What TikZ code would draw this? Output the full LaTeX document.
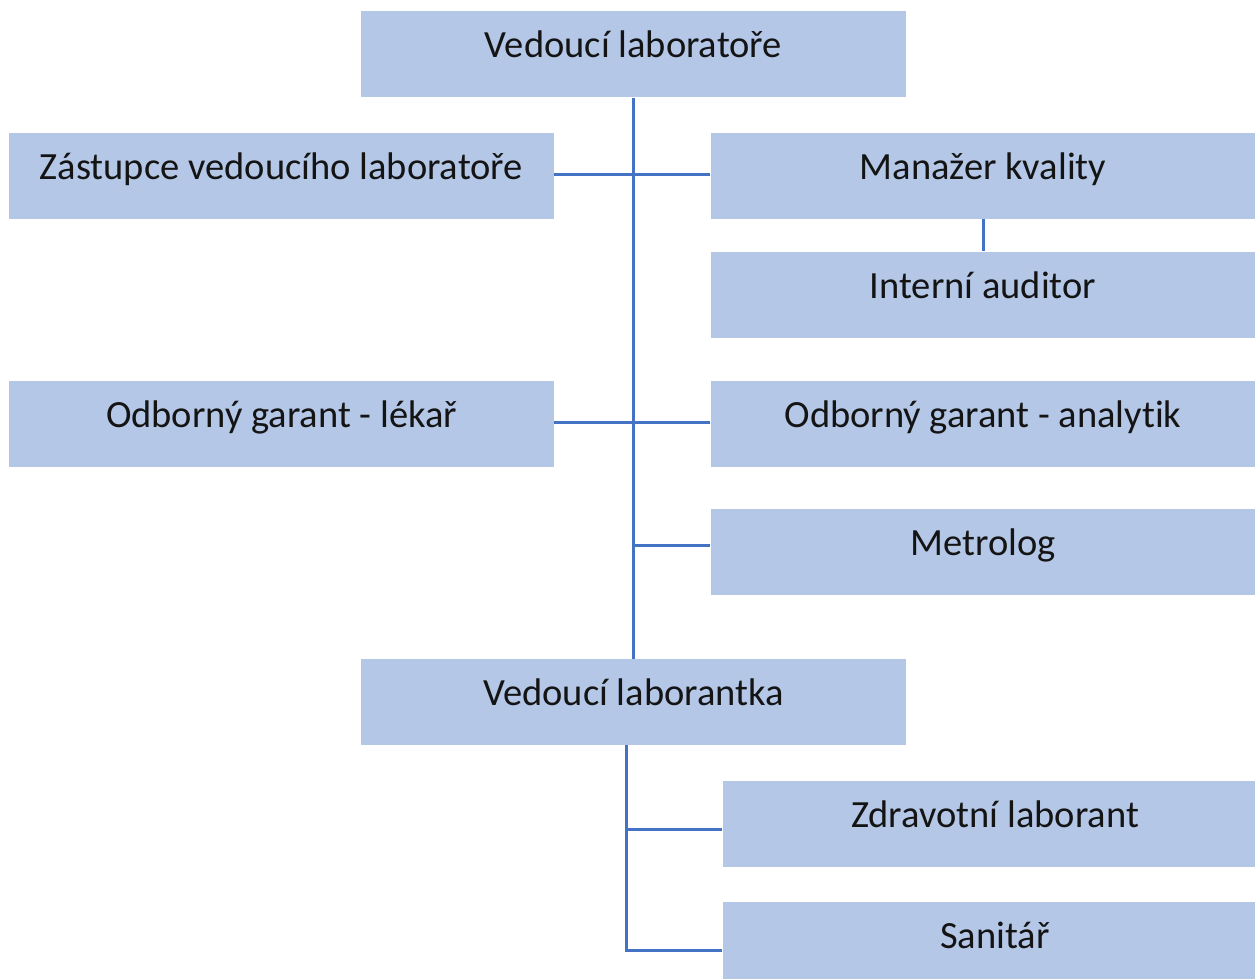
\documentclass[tikz,border=0pt]{standalone}
\usepackage{fontspec}
\setmainfont{Carlito}[RawFeature={-liga;-clig;-calt;-dlig}]
\definecolor{boxfill}{RGB}{180,199,231}
\definecolor{linkblue}{RGB}{68,114,196}
\definecolor{txtc}{RGB}{20,20,20}
\begin{document}
\begin{tikzpicture}[x=1pt,y=-1pt,
  orgbox/.style={rectangle,fill=boxfill,draw=none,inner sep=0pt,minimum width=545pt,minimum height=86pt},
  orgtxt/.style={anchor=base,inner sep=0pt,text=txtc,font=\fontsize{38.5}{44}\selectfont},
  link/.style={draw=linkblue,line width=3pt}]
\useasboundingbox (0,0) rectangle (1255,979);
\begin{scope}
\clip (0,0) rectangle (1255,979);
% boxes
\node[orgbox] (vl)   at (633.5,54.5) {};
\node[orgbox] (zast) at (281.5,176) {};
\node[orgbox] (mk)   at (983,176) {};
\node[orgbox] (ia)   at (983,294.5) {};
\node[orgbox] (ogl)  at (281.5,423.5) {};
\node[orgbox] (oga)  at (983,423.5) {};
\node[orgbox] (met)  at (983,551.5) {};
\node[orgbox] (vla)  at (633.5,702) {};
\node[orgbox] (zl)   at (995,824) {};
\node[orgbox] (san)  at (995,945) {};
% texts
\node[orgtxt] (tvl)   at ([yshift=-3.5pt]vl.center)   {Vedoucí laboratoře};
\node[orgtxt] (tzast) at ([yshift=-3.5pt]zast.center) {Zástupce vedoucího laboratoře};
\node[orgtxt] (tmk)   at ([yshift=-3.5pt]mk.center)   {Manažer kvality};
\node[orgtxt] (tia)   at ([yshift=-3.5pt]ia.center)   {Interní auditor};
\node[orgtxt] (togl)  at ([yshift=-3.5pt]ogl.center)  {Odborný garant - lékař};
\node[orgtxt] (toga)  at ([yshift=-3.5pt]oga.center)  {Odborný garant - analytik};
\node[orgtxt] (tmet)  at ([yshift=-3.5pt]met.center)  {Metrolog};
\node[orgtxt] (tvla)  at ([yshift=-3.5pt]vla.center)  {Vedoucí laborantka};
\node[orgtxt] (tzl)   at ([yshift=-3.5pt]zl.center)   {Zdravotní laborant};
\node[orgtxt] (tsan)  at ([yshift=-3.5pt]san.center)  {Sanitář};
% connectors
\draw[link] (vl.south) -- (vla.north);
\draw[link] ([yshift=1.5pt]zast.east) -- ([yshift=1.5pt]mk.west);
\draw[link] ([yshift=1.5pt]ogl.east) -- ([yshift=1.5pt]oga.west);
\coordinate (metj) at (635,545.5);
\draw[link] (metj) -- (met.west |- metj);
\draw[link] (mk.south) -- (ia.north);
\coordinate (trunk) at (626,745);
\coordinate (zlj) at (722,829);
\coordinate (sanj) at (722,950);
\draw[link] (trunk) |- (sanj);
\draw[link] (trunk |- zlj) -- (zlj);
\end{scope}
\end{tikzpicture}
\end{document}
